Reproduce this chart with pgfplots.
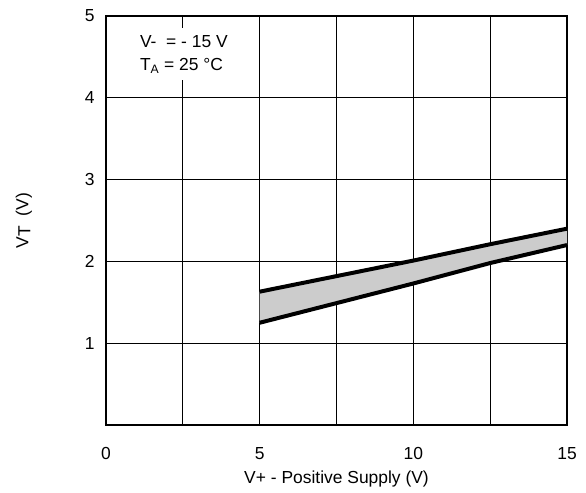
\documentclass[border=0pt]{standalone}
\usepackage{fontspec}
\setmainfont{Liberation Sans}
\usepackage{pgfplots}
\pgfplotsset{compat=1.18}
\usepgfplotslibrary{fillbetween}
\begin{document}
\begin{tikzpicture}
\begin{axis}[
  scale only axis,
  width=461bp, height=409bp,
  xmin=0, xmax=15, ymin=0, ymax=5,
  xtick={0,5,10,15},
  minor xtick={2.5,7.5,12.5},
  ytick={1,2,3,4,5},
  grid=both,
  major grid style={black, line width=0.9pt},
  minor grid style={black, line width=0.9pt},
  axis line style={line width=2pt},
  tick style={draw=none},
  /pgf/number format/assume math mode=true,
  tick label style={font=\fontsize{17.5}{20}\selectfont},
  xticklabel style={yshift=-19bp},
  yticklabel style={xshift=-8bp},
  xlabel={V+ - Positive Supply (V)},
  ylabel={V\raisebox{-2pt}{T}\ \ (V)},
  label style={font=\fontsize{17.5}{20}\selectfont},
  xlabel style={at={(axis description cs:0.5,0)}, anchor=base, yshift=-58bp},
  ylabel style={yshift=46bp},
  clip=false,
]
\addplot[name path=up, draw=none] coordinates {(5,1.63) (7.5,1.82) (10,2.01) (12.5,2.21) (15,2.4)};
\addplot[name path=lo, draw=none] coordinates {(5,1.25) (7.5,1.49) (10,1.73) (12.5,1.98) (15,2.2)};
\addplot[fill=black!20, draw=none] fill between[of=up and lo];
\addplot[line width=4pt, black] coordinates {(5,1.63) (7.5,1.82) (10,2.01) (12.5,2.21) (15,2.4)};
\addplot[line width=4pt, black] coordinates {(5,1.25) (7.5,1.49) (10,1.73) (12.5,1.98) (15,2.2)};
\fill[white] (axis cs:0.94,4.85) rectangle (axis cs:4.2,4.22);
\node[anchor=base west, inner sep=0pt, font=\fontsize{17.5}{20}\selectfont]
  at (axis cs:1.1,4.61) {V-\ \ = - 15 V};
\node[anchor=base west, inner sep=0pt, font=\fontsize{17.5}{20}\selectfont]
  at (axis cs:1.1,4.33) {T\textsubscript{A} = 25 °C};
\end{axis}
\useasboundingbox (current axis.south west) ++(-106bp,-68bp) rectangle ([shift={(19bp,16bp)}]current axis.north east);
\end{tikzpicture}
\end{document}
